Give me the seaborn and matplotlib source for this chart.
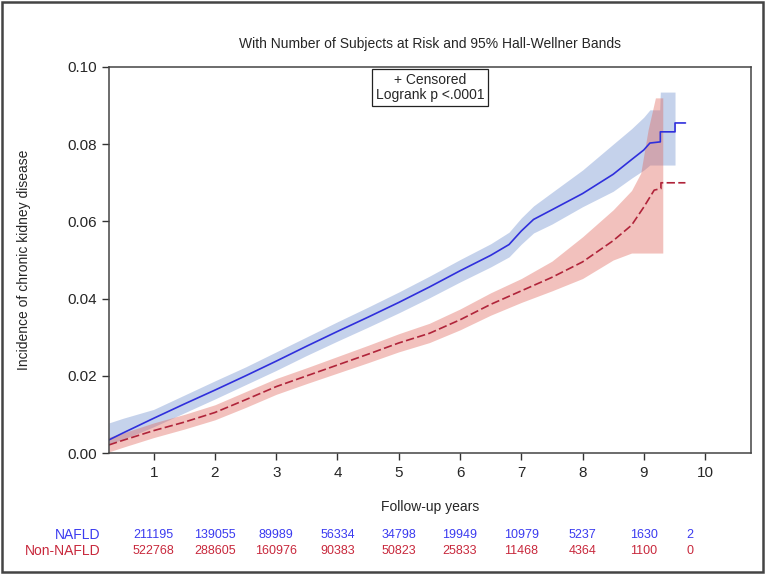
import numpy as np
import pandas as pd
import matplotlib
matplotlib.use("Agg")
import matplotlib.pyplot as plt
import matplotlib.transforms as mtransforms
from matplotlib.patches import Rectangle
import seaborn as sns

# cumulative incidence (step corners included at the end)
nafld_t = [0.27, 0.5, 1.0, 1.5, 2.0, 2.5, 3.0, 3.5, 4.0, 4.5, 5.0, 5.5, 6.0, 6.5,
           6.8, 7.0, 7.2, 7.5, 8.0, 8.5, 8.8, 9.0, 9.1, 9.27, 9.27, 9.51, 9.51, 9.68]
nafld_inc = [0.0034, 0.0052, 0.0090, 0.0127, 0.0163, 0.0200, 0.0238, 0.0277, 0.0315,
             0.0352, 0.0390, 0.0430, 0.0472, 0.0512, 0.0540, 0.0575, 0.0605, 0.0630,
             0.0672, 0.0722, 0.0760, 0.0785, 0.0803, 0.0806, 0.0832, 0.0832, 0.0855, 0.0855]

non_t = [0.27, 0.5, 1.0, 1.5, 2.0, 2.5, 3.0, 3.5, 4.0, 4.5, 5.0, 5.5, 6.0, 6.5,
         7.0, 7.5, 8.0, 8.5, 8.8, 9.0, 9.17, 9.28, 9.28, 9.68]
non_inc = [0.0021, 0.0033, 0.0058, 0.0080, 0.0105, 0.0138, 0.0172, 0.0200, 0.0228,
           0.0256, 0.0285, 0.0310, 0.0345, 0.0385, 0.0420, 0.0455, 0.0495, 0.0550,
           0.0590, 0.0637, 0.0681, 0.0685, 0.0700, 0.0700]

# Hall-Wellner bands
nafld_band_t = [0.27, 0.5, 1.0, 1.5, 2.0, 2.5, 3.0, 3.5, 4.0, 4.5, 5.0, 5.5, 6.0, 6.5,
                6.8, 7.0, 7.2, 7.5, 8.0, 8.5, 8.8, 9.0, 9.1, 9.26, 9.27, 9.51]
nafld_lo = [0.0024, 0.0035, 0.0068, 0.0104, 0.0140, 0.0177, 0.0214, 0.0253, 0.0290,
            0.0326, 0.0363, 0.0402, 0.0443, 0.0482, 0.0508, 0.0541, 0.0570, 0.0593,
            0.0638, 0.0678, 0.0712, 0.0733, 0.0746, 0.0746, 0.0746, 0.0746]
nafld_hi = [0.0078, 0.0090, 0.0113, 0.0150, 0.0187, 0.0223, 0.0262, 0.0301, 0.0340,
            0.0378, 0.0417, 0.0458, 0.0501, 0.0542, 0.0572, 0.0609, 0.0640, 0.0675,
            0.0733, 0.0800, 0.0840, 0.0870, 0.0889, 0.0889, 0.0935, 0.0935]

non_band_t = [0.27, 0.5, 1.0, 1.5, 2.0, 2.5, 3.0, 3.5, 4.0, 4.5, 5.0, 5.5, 6.0, 6.5,
              7.0, 7.5, 8.0, 8.5, 8.8, 8.95, 9.07, 9.19, 9.31]
non_lo = [0.0003, 0.0015, 0.0040, 0.0062, 0.0086, 0.0118, 0.0152, 0.0180, 0.0207,
          0.0234, 0.0262, 0.0286, 0.0319, 0.0357, 0.0390, 0.0420, 0.0452, 0.0500,
          0.0518, 0.0518, 0.0518, 0.0518, 0.0518]
non_hi = [0.0041, 0.0052, 0.0078, 0.0100, 0.0125, 0.0159, 0.0193, 0.0221, 0.0250,
          0.0279, 0.0309, 0.0336, 0.0373, 0.0415, 0.0452, 0.0497, 0.0560, 0.0630,
          0.0680, 0.0725, 0.0837, 0.0920, 0.0920]

# number at risk table
risk_times = [1, 2, 3, 4, 5, 6, 7, 8, 9, 9.75]
nafld_risk = [211195, 139055, 89989, 56334, 34798, 19949, 10979, 5237, 1630, 2]
non_risk = [522768, 288605, 160976, 90383, 50823, 25833, 11468, 4364, 1100, 0]

groups = ["NAFLD", "Non-NAFLD"]
line_colors = {"NAFLD": "#2f2fdc", "Non-NAFLD": "#b0243a"}
band_colors = {"NAFLD": "#6f8fcf", "Non-NAFLD": "#e0665a"}
text_colors = {"NAFLD": "#3b3bf0", "Non-NAFLD": "#c8283c"}

sns.set_style("ticks")
plt.rcParams["font.family"] = ["Liberation Sans", "DejaVu Sans"]

fig = plt.figure(figsize=(7.66, 5.74), dpi=100)
ax = fig.add_axes([0.1423, 0.2108, 0.8381, 0.6725])

ax.fill_between(nafld_band_t, nafld_lo, nafld_hi, color=band_colors["NAFLD"],
                alpha=0.4, lw=0)
ax.fill_between(non_band_t, non_lo, non_hi, color=band_colors["Non-NAFLD"],
                alpha=0.4, lw=0)

df = pd.concat([
    pd.DataFrame({"time": nafld_t, "incidence": nafld_inc, "group": "NAFLD"}),
    pd.DataFrame({"time": non_t, "incidence": non_inc, "group": "Non-NAFLD"}),
])
sns.lineplot(data=df, x="time", y="incidence", hue="group", style="group",
             palette=line_colors, dashes={"NAFLD": "", "Non-NAFLD": (5, 2)},
             estimator=None, legend=False, lw=1.2, ax=ax)

ax.set_xlim(0.27, 10.75)
ax.set_ylim(0, 0.10)
ax.set_xticks(range(1, 11))
ax.set_yticks([0, 0.02, 0.04, 0.06, 0.08, 0.10])
ax.yaxis.set_major_formatter(matplotlib.ticker.FormatStrFormatter("%.2f"))
ax.tick_params(axis="both", labelsize=11, length=5, width=1, color="#333333",
               direction="out", pad=4)
for sp in ax.spines.values():
    sp.set_visible(True)
    sp.set_color("#444444")
    sp.set_linewidth(1.1)

ax.set_xlabel("Follow-up years", fontsize=10)
ax.set_ylabel("Incidence of chronic kidney disease", fontsize=10)
ax.xaxis.set_label_coords(0.5, -0.122)
ax.yaxis.set_label_coords(-0.121, 0.5)

fig.text(0.5614, 0.923, "With Number of Subjects at Risk and 95% Hall-Wellner Bands",
         ha="center", va="center", fontsize=10)

ax.text(0.5, 0.985, "+ Censored\nLogrank p <.0001", transform=ax.transAxes,
        ha="center", va="top", fontsize=10, linespacing=1.15,
        bbox=dict(boxstyle="square,pad=0.25", fc="white", ec="#222222", lw=0.9))

# at-risk table below the axis
trans = mtransforms.blended_transform_factory(ax.transData, ax.transAxes)
rows = {"NAFLD": (nafld_risk, -0.212), "Non-NAFLD": (non_risk, -0.254)}
for g in groups:
    counts, yy = rows[g]
    ax.text(-0.014, yy, g, transform=ax.transAxes, ha="right", va="center",
            fontsize=10, color=text_colors[g])
    for t, n in zip(risk_times, counts):
        ax.text(t, yy, str(n), transform=trans, ha="center", va="center",
                fontsize=9, color=text_colors[g], clip_on=False)

fig.patches.append(Rectangle((0.002, 0.004), 0.994, 0.992, transform=fig.transFigure,
                             fill=False, ec="#444444", lw=1.8))

fig.savefig("out.png", dpi=100)
